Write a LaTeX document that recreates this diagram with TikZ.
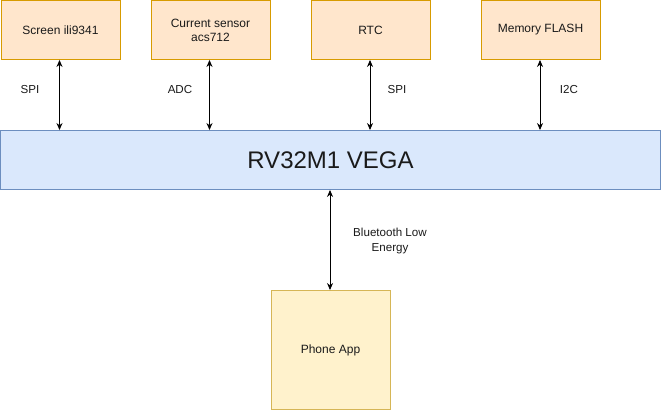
\documentclass[tikz,border=0pt]{standalone}
\usepackage{fontspec}
\setmainfont{Liberation Sans}
\usetikzlibrary{arrows.meta}
\definecolor{orfill}{HTML}{FFE6CC}
\definecolor{ordraw}{HTML}{D79B00}
\definecolor{blfill}{HTML}{DAE8FC}
\definecolor{bldraw}{HTML}{6C8EBF}
\definecolor{yefill}{HTML}{FFF2CC}
\definecolor{yedraw}{HTML}{D6B656}
\definecolor{txt}{HTML}{1A1A1A}
\tikzset{
  periph/.style={draw=ordraw, fill=orfill, line width=0.9pt, minimum width=119pt, minimum height=59pt, inner sep=0pt, align=center, font=\fontsize{12}{14}\selectfont, text=txt},
  mcu/.style={draw=bldraw, fill=blfill, line width=0.9pt, minimum width=660pt, minimum height=59pt, inner sep=0pt, font=\fontsize{24}{28}\selectfont, text=txt},
  phone/.style={draw=yedraw, fill=yefill, line width=0.9pt, minimum width=119pt, minimum height=119pt, inner sep=0pt, font=\fontsize{12}{14}\selectfont, text=txt},
  link/.style={line width=0.9pt, {Stealth[length=7pt,width=6pt]}-{Stealth[length=7pt,width=6pt]}},
  lbl/.style={font=\fontsize{11.6}{15}\selectfont, text=txt, align=center, inner sep=0pt}
}
\begin{document}
\begin{tikzpicture}[x=1pt,y=-1pt]
\useasboundingbox (0,0) rectangle (661,412);
\node[periph] (scr) at (60.5,30) {Screen ili9341};
\node[periph] (cur) at (210.5,30) {Current sensor\\acs712};
\node[periph] (rtc) at (370.5,30) {RTC};
\node[periph] (mem) at (540.5,30) {Memory FLASH};
\node[mcu] (vega) at (330.5,160) {RV32M1 VEGA};
\node[phone] (app) at (330.5,350) {Phone App};
\draw[link] (scr.south -| 59.5,0) -- (vega.north -| 59.5,0);
\draw[link] (cur.south -| 209.5,0) -- (vega.north -| 209.5,0);
\draw[link] (rtc.south -| 370,0) -- (vega.north -| 370,0);
\draw[link] (mem.south -| 540,0) -- (vega.north -| 540,0);
\draw[link] (vega.south -| 330,0) -- (app.north -| 330,0);
\node[lbl] (l1) at (30,90) {SPI};
\node[lbl] (l2) at (180,90) {ADC};
\node[lbl] (l3) at (397,90) {SPI};
\node[lbl] (l4) at (569,90) {I2C};
\node[lbl] (l5) at (390,241) {Bluetooth Low\\Energy};
\end{tikzpicture}
\end{document}
